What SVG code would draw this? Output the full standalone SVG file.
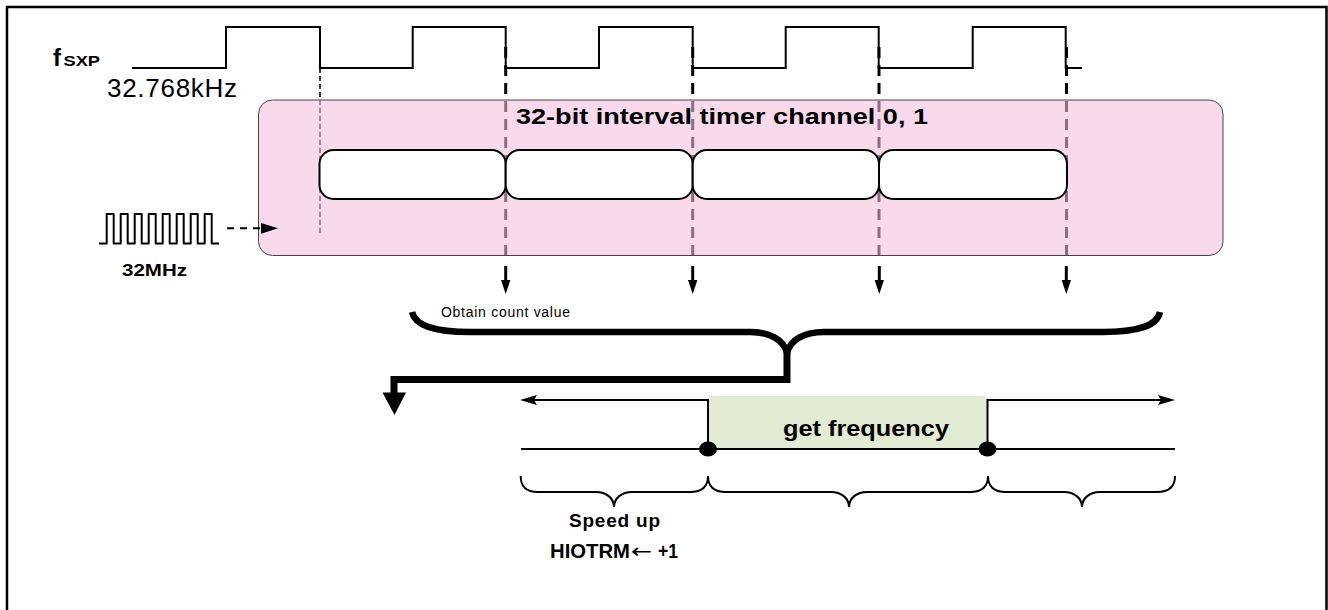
<svg xmlns="http://www.w3.org/2000/svg" width="1328" height="610" viewBox="0 0 1328 610">
<style>
.ln{fill:none;stroke:#000;stroke-width:2}
.dash{fill:none;stroke:#000;stroke-width:3;stroke-dasharray:11 7}
.thin{fill:none;stroke:#000;stroke-width:1.5;stroke-dasharray:5 3}
.brace{fill:none;stroke:#000;stroke-width:6.5}
.sb{fill:none;stroke:#000;stroke-width:2}
.bold{font-family:"Liberation Sans",Arial,sans-serif;font-weight:bold;fill:#000}
.reg{font-family:"Liberation Sans",Arial,sans-serif;fill:#000}
</style>
<rect x="7" y="7" width="1319.5" height="620" fill="#fff" stroke="#000" stroke-width="2.5"/>
<g id="fsxp-signal">
<polyline class="ln" points="132,68 226,68 226,27 320,27 320,68 412.7,68 412.7,27 505.7,27 505.7,68 599,68 599,27 692.7,27 692.7,68 785.7,68 785.7,27 878.7,27 878.7,68 972.7,68 972.7,27 1065.7,27 1065.7,68 1082,68"/>
<text class="bold" x="53" y="66" font-size="24">f</text>
<text class="bold" x="63.5" y="66" font-size="14" textLength="36.5" lengthAdjust="spacingAndGlyphs">SXP</text>
<text class="reg" x="107" y="97" font-size="26" textLength="130">32.768kHz</text>
</g>
<g id="connectors">
<line class="thin" x1="320" y1="68" x2="320" y2="236"/>
<line class="dash" x1="505.7" y1="47" x2="505.7" y2="256"/>
<line class="dash" x1="692.7" y1="47" x2="692.7" y2="256"/>
<line class="dash" x1="879" y1="47" x2="879" y2="256"/>
<line class="dash" x1="1066.5" y1="47" x2="1066.5" y2="256"/>
</g>
<g id="timer">
<rect x="258.5" y="100" width="964.5" height="155.5" rx="14" fill="rgb(243,191,222)" fill-opacity="0.575" stroke="#444" stroke-width="1"/>
<rect x="319.5" y="150" width="186.2" height="49" rx="14" fill="#fff" stroke="#000" stroke-width="2"/>
<rect x="505.7" y="150" width="187" height="49" rx="14" fill="#fff" stroke="#000" stroke-width="2"/>
<rect x="692.7" y="150" width="186.3" height="49" rx="14" fill="#fff" stroke="#000" stroke-width="2"/>
<rect x="879" y="150" width="188" height="49" rx="14" fill="#fff" stroke="#000" stroke-width="2"/>
<text class="bold" x="516" y="124" font-size="22" textLength="412" lengthAdjust="spacingAndGlyphs">32-bit interval timer channel 0, 1</text>
</g>
<g id="clock-32mhz">
<path class="ln" stroke-linejoin="round" d="M99,243.5 H106.7 V214 H113.7 V243.5 H120.7 V214 H127.7 V243.5 H134.7 V214 H141.7 V243.5 H148.7 V214 H155.7 V243.5 H162.7 V214 H169.7 V243.5 H176.7 V214 H183.7 V243.5 H190.7 V214 H197.7 V243.5 H204.7 V214 H211.7 V243.5 H219"/>
<text class="bold" x="122" y="276" font-size="17" textLength="65" lengthAdjust="spacingAndGlyphs">32MHz</text>
<line x1="227" y1="228.3" x2="261" y2="228.3" stroke="#000" stroke-width="2" stroke-dasharray="7 6"/>
<polygon points="261,223 278,228.3 261,233.7" fill="#000"/>
</g>
<g id="sample-arrows">
<line x1="505.7" y1="266" x2="505.7" y2="283" stroke="#000" stroke-width="3"/>
<polygon points="501,280 510.4,280 505.7,294" fill="#000"/>
<line x1="692.7" y1="266" x2="692.7" y2="283" stroke="#000" stroke-width="3"/>
<polygon points="688,280 697.4,280 692.7,294" fill="#000"/>
<line x1="879.3" y1="266" x2="879.3" y2="283" stroke="#000" stroke-width="3"/>
<polygon points="874.6,280 884,280 879.3,294" fill="#000"/>
<line x1="1066.3" y1="266" x2="1066.3" y2="283" stroke="#000" stroke-width="3"/>
<polygon points="1061.6,280 1071,280 1066.3,294" fill="#000"/>
</g>
<g id="obtain-count">
<text class="reg" x="441" y="317" font-size="14" textLength="129">Obtain count value</text>
<path class="brace" d="M412,312 C415,326 435,332 470,332 L750,332 C770,332 784,340 787,353 C790,340 804,332 824,332 L1103,332 C1138,332 1157,326 1160,312"/>
<polyline fill="none" stroke="#000" stroke-width="7" stroke-linejoin="miter" points="787,350 787,379.5 394,379.5 394,395"/>
<polygon points="382.5,392.5 406,392.5 394.5,415" fill="#000"/>
</g>
<g id="get-frequency">
<path d="M708,449 V401 Q708,396 713,396 H983 Q988,396 988,401 V449 Z" fill="#E2EBD4"/>
<line class="ln" x1="708" y1="400" x2="530" y2="400"/>
<polygon points="520,400 537,395 534,400 537,405" fill="#000"/>
<line class="ln" x1="987.5" y1="400" x2="1165" y2="400"/>
<polygon points="1175,400 1158,395 1161,400 1158,405" fill="#000"/>
<line class="ln" x1="708" y1="399" x2="708" y2="449"/>
<line class="ln" x1="987.5" y1="399" x2="987.5" y2="449"/>
<line class="ln" x1="521" y1="449" x2="1175" y2="449"/>
<ellipse cx="708" cy="449" rx="9" ry="7.5" fill="#000"/>
<ellipse cx="987.5" cy="449" rx="9" ry="7.5" fill="#000"/>
<text class="bold" x="783" y="436" font-size="22" textLength="166" lengthAdjust="spacingAndGlyphs">get frequency</text>
</g>
<g id="phases">
<path class="sb" d="M520.7,476 C520.7,486 525,492 538,492 L596,492 C606,492 614,498 614,507 C614,498 622,492 632,492 L690,492 C703,492 708,486 708,476"/>
<path class="sb" d="M708,476 C708,486 713,492 726,492 L831,492 C841,492 849,498 849,507 C849,498 857,492 867,492 L970,492 C983,492 988,486 988,476"/>
<path class="sb" d="M988,476 C988,486 993,492 1006,492 L1064,492 C1074,492 1082,498 1082,507 C1082,498 1090,492 1100,492 L1157,492 C1170,492 1175,486 1175,476"/>
<text class="bold" x="569" y="527" font-size="19" textLength="91">Speed up</text>
<text class="bold" x="550" y="558" font-size="20"><tspan textLength="80" lengthAdjust="spacingAndGlyphs">HIOTRM</tspan><tspan x="631" font-family="'DejaVu Sans',sans-serif" font-weight="normal" textLength="21" lengthAdjust="spacingAndGlyphs">←</tspan><tspan x="658" textLength="20" lengthAdjust="spacingAndGlyphs">+1</tspan></text>
</g>
</svg>
